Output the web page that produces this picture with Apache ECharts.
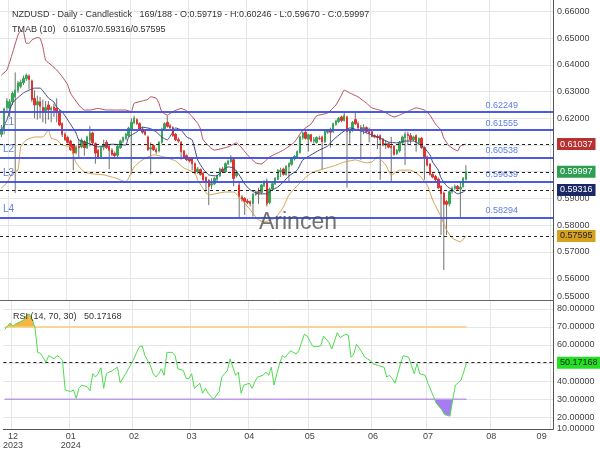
<!DOCTYPE html>
<html><head><meta charset="utf-8">
<script src="https://cdn.jsdelivr.net/npm/echarts@6/dist/echarts.min.js"></script>
<style>html,body{margin:0;padding:0;background:#fff}#c{width:600px;height:450px}</style>
</head><body><div id="c"></div>
<script>
// ---- data ----
const open = [0.6140,0.6160,0.6240,0.6238,0.6262,0.6280,0.6305,0.6320,0.6333,0.6348,0.6358,0.6340,0.6275,0.6250,0.6262,0.6240,0.6228,0.6250,0.6232,0.6242,0.6238,0.6225,0.6180,0.6140,0.6128,0.6115,0.6100,0.6072,0.6095,0.6093,0.6112,0.6090,0.6118,0.6145,0.6105,0.6080,0.6055,0.6092,0.6110,0.6095,0.6080,0.6068,0.6062,0.6090,0.6115,0.6125,0.6135,0.6160,0.6183,0.6195,0.6180,0.6160,0.6150,0.6130,0.6085,0.6098,0.6082,0.6078,0.6110,0.6160,0.6185,0.6172,0.6165,0.6140,0.6120,0.6110,0.6078,0.6060,0.6048,0.6050,0.6030,0.6000,0.6008,0.5995,0.5978,0.5968,0.5950,0.5955,0.5972,0.5985,0.6010,0.6000,0.6030,0.6038,0.6045,0.5985,0.5950,0.5905,0.5900,0.5890,0.5888,0.5882,0.5915,0.5925,0.5922,0.5948,0.5965,0.5885,0.5935,0.5955,0.5972,0.6000,0.6010,0.5990,0.6018,0.6028,0.6048,0.6055,0.6072,0.6128,0.6148,0.6122,0.6138,0.6115,0.6110,0.6125,0.6130,0.6112,0.6148,0.6152,0.6150,0.6178,0.6188,0.6205,0.6192,0.6205,0.6145,0.6155,0.6195,0.6180,0.6165,0.6160,0.6165,0.6150,0.6150,0.6135,0.6132,0.6135,0.6122,0.6100,0.6105,0.6095,0.6095,0.6068,0.6078,0.6108,0.6128,0.6140,0.6135,0.6120,0.6135,0.6108,0.6125,0.6090,0.6055,0.6028,0.5990,0.5982,0.5972,0.5945,0.5920,0.5888,0.5880,0.5925,0.5938,0.5945,0.5935,0.5945,0.59719];
const high = [0.6175,0.6240,0.6275,0.6272,0.6300,0.6372,0.6340,0.6345,0.6360,0.6368,0.6365,0.6345,0.6305,0.6285,0.6280,0.6270,0.6265,0.6265,0.6245,0.6255,0.6275,0.6232,0.6185,0.6148,0.6135,0.6120,0.6105,0.6098,0.6120,0.6125,0.6118,0.6135,0.6172,0.6150,0.6110,0.6085,0.6095,0.6120,0.6118,0.6100,0.6088,0.6075,0.6100,0.6120,0.6132,0.6145,0.6168,0.6200,0.6210,0.6200,0.6185,0.6168,0.6155,0.6135,0.6110,0.6103,0.6090,0.6115,0.6165,0.6185,0.6210,0.6180,0.6170,0.6145,0.6128,0.6115,0.6082,0.6065,0.6055,0.6055,0.6035,0.6018,0.6012,0.6000,0.5982,0.5972,0.5975,0.5980,0.5990,0.6015,0.6018,0.6035,0.6045,0.6062,0.6050,0.6005,0.5965,0.5912,0.5905,0.5898,0.5892,0.5920,0.5930,0.5940,0.5955,0.5968,0.5975,0.5940,0.5960,0.5980,0.6010,0.6015,0.6015,0.6025,0.6035,0.6055,0.6062,0.6080,0.6135,0.6150,0.6152,0.6142,0.6142,0.6130,0.6132,0.6135,0.6135,0.6155,0.6160,0.6165,0.6183,0.6195,0.6205,0.6210,0.6222,0.6210,0.6160,0.6190,0.6220,0.6188,0.6175,0.6178,0.6170,0.6165,0.6155,0.6140,0.6140,0.6140,0.6126,0.6118,0.6110,0.6130,0.6100,0.6085,0.6115,0.6135,0.6150,0.6150,0.6145,0.6135,0.6140,0.6128,0.6130,0.6095,0.6060,0.6032,0.5995,0.5988,0.5978,0.5950,0.5925,0.5895,0.5930,0.5945,0.5952,0.5950,0.5965,0.5980,0.60246];
const low = [0.6130,0.6140,0.6225,0.6205,0.6250,0.5920,0.6295,0.6312,0.6325,0.6340,0.6310,0.6262,0.6200,0.6195,0.6200,0.6185,0.6180,0.6195,0.6185,0.6205,0.6185,0.6170,0.6130,0.6115,0.6105,0.6078,0.6006,0.6065,0.6050,0.6088,0.6060,0.6085,0.6095,0.6100,0.6030,0.6048,0.6050,0.6080,0.6085,0.6010,0.6058,0.6052,0.6055,0.6085,0.6108,0.6118,0.6130,0.5990,0.6178,0.6175,0.6155,0.6142,0.6135,0.6078,0.5990,0.6078,0.6065,0.6072,0.6105,0.6155,0.6165,0.6158,0.6130,0.6115,0.6108,0.6045,0.6048,0.6040,0.6035,0.6005,0.5990,0.5992,0.5985,0.5965,0.5930,0.5875,0.5935,0.5950,0.5965,0.5980,0.5995,0.5995,0.6025,0.6032,0.5945,0.5978,0.5830,0.5888,0.5838,0.5878,0.5870,0.5832,0.5910,0.5880,0.5915,0.5942,0.5870,0.5878,0.5930,0.5950,0.5968,0.5980,0.5985,0.5985,0.5965,0.6022,0.6042,0.6050,0.6068,0.6120,0.6120,0.6075,0.6110,0.6105,0.6105,0.6118,0.6006,0.6108,0.6142,0.6090,0.6145,0.6172,0.6182,0.6185,0.6188,0.5940,0.6105,0.6150,0.6175,0.6160,0.6045,0.6140,0.6145,0.6110,0.6128,0.6125,0.6085,0.5970,0.6095,0.6085,0.6088,0.5960,0.6060,0.6062,0.6072,0.6102,0.6025,0.6100,0.6105,0.6115,0.6075,0.6100,0.6085,0.5970,0.6020,0.5985,0.5975,0.5965,0.5935,0.5763,0.5632,0.5763,0.5870,0.5918,0.5932,0.5930,0.5830,0.5940,0.59670];
const close = [0.6155,0.6235,0.6265,0.6262,0.6293,0.6305,0.6332,0.6335,0.6350,0.6360,0.6345,0.6270,0.6250,0.6262,0.6245,0.6228,0.6240,0.6232,0.6238,0.6230,0.6225,0.6175,0.6140,0.6120,0.6110,0.6082,0.6070,0.6092,0.6090,0.6118,0.6090,0.6130,0.6145,0.6108,0.6070,0.6055,0.6090,0.6098,0.6090,0.6080,0.6065,0.6060,0.6095,0.6115,0.6128,0.6140,0.6163,0.6185,0.6200,0.6180,0.6160,0.6148,0.6140,0.6082,0.6090,0.6082,0.6075,0.6110,0.6160,0.6180,0.6170,0.6165,0.6135,0.6120,0.6115,0.6075,0.6052,0.6045,0.6040,0.6030,0.5995,0.6010,0.5990,0.5970,0.5965,0.5945,0.5955,0.5975,0.5985,0.6010,0.6000,0.6030,0.6040,0.6048,0.5975,0.5998,0.5905,0.5895,0.5888,0.5885,0.5880,0.5915,0.5925,0.5922,0.5950,0.5960,0.5880,0.5935,0.5955,0.5975,0.6005,0.6005,0.5990,0.6020,0.6030,0.6050,0.6058,0.6075,0.6130,0.6145,0.6125,0.6138,0.6115,0.6120,0.6128,0.6125,0.6112,0.6150,0.6155,0.6148,0.6180,0.6190,0.6200,0.6192,0.6210,0.6150,0.6155,0.6185,0.6180,0.6165,0.6160,0.6165,0.6150,0.6145,0.6132,0.6130,0.6128,0.6120,0.6100,0.6105,0.6092,0.6090,0.6065,0.6080,0.6110,0.6130,0.6140,0.6135,0.6120,0.6130,0.6112,0.6125,0.6090,0.6055,0.6025,0.5990,0.5980,0.5970,0.5940,0.5918,0.5878,0.5878,0.5925,0.5938,0.5945,0.5935,0.5942,0.5975,0.59997];

// TMA bands: [bar index, value]
const tmaUpper = [[0,0.6362],[2,0.6381],[4,0.6444],[6,0.6512],[7,0.6528],[8,0.6524],[9,0.6481],[10,0.6481],[11,0.6493],[13,0.6503],[14,0.6500],[15,0.6468],[16,0.6418],[18,0.6400],[20,0.6381],[22,0.6356],[24,0.6325],[25,0.6294],[28,0.6250],[30,0.6231],[32,0.6231],[35,0.6237],[38,0.6231],[42,0.6231],[45,0.6231],[47,0.6225],[48,0.6256],[51,0.6265],[53,0.6271],[54,0.6281],[56,0.6275],[57,0.6256],[58,0.6225],[60,0.6212],[62,0.6225],[65,0.6237],[67,0.6228],[69,0.6206],[71,0.6181],[72,0.6160],[73,0.6119],[77,0.6081],[82,0.6093],[85,0.6108],[89,0.6063],[92,0.6033],[94,0.6029],[97,0.6055],[102,0.6081],[106,0.6111],[109,0.6156],[112,0.6179],[114,0.6209],[118,0.6220],[121,0.6250],[123,0.6287],[124,0.6306],[126,0.6295],[129,0.6280],[132,0.6257],[134,0.6239],[138,0.6227],[142,0.6205],[144,0.6212],[148,0.6231],[150,0.6239],[153,0.6231],[155,0.6212],[157,0.6178],[159,0.6156],[160,0.6126],[162,0.6096],[165,0.6078],[166,0.6096],[168,0.61037]];
const tmaMid = [[0,0.6156],[2,0.6194],[4,0.6257],[8,0.6295],[12,0.6313],[14,0.6313],[17,0.6276],[19,0.6261],[20,0.6242],[22,0.6224],[24,0.6194],[27,0.6145],[28,0.6119],[31,0.6108],[35,0.6093],[40,0.6103],[45,0.6100],[46,0.6130],[49,0.6149],[51,0.6167],[54,0.6161],[56,0.6149],[58,0.6130],[60,0.6119],[62,0.6149],[63,0.6164],[65,0.6156],[67,0.6130],[69,0.6119],[71,0.6044],[73,0.6010],[75,0.5988],[78,0.5984],[80,0.6006],[82,0.6018],[84,0.6014],[86,0.5988],[88,0.5954],[90,0.5932],[93,0.5917],[96,0.5917],[98,0.5932],[100,0.5943],[102,0.5962],[104,0.5984],[107,0.6006],[109,0.6044],[112,0.6063],[115,0.6081],[118,0.6096],[120,0.6119],[123,0.6145],[126,0.6164],[129,0.6156],[131,0.6149],[134,0.6138],[137,0.6126],[140,0.6111],[143,0.6108],[146,0.6115],[149,0.6115],[151,0.6104],[153,0.6089],[155,0.6063],[156,0.6036],[158,0.6006],[159,0.5977],[161,0.5947],[163,0.5932],[165,0.5917],[167,0.5924],[168,0.59316]];
const tmaLower = [[0,0.5939],[2,0.5958],[4,0.5995],[6,0.6006],[7,0.6093],[9,0.6119],[12,0.6130],[15,0.6130],[17,0.6156],[18,0.6126],[20,0.6119],[22,0.6100],[25,0.6093],[27,0.6033],[30,0.5999],[33,0.5992],[37,0.5988],[41,0.5977],[45,0.5962],[48,0.6018],[51,0.6044],[55,0.6063],[59,0.6055],[63,0.6040],[66,0.6014],[70,0.5995],[71,0.5969],[75,0.5913],[81,0.5924],[84,0.5924],[87,0.5894],[90,0.5857],[93,0.5819],[95,0.5812],[99,0.5827],[102,0.5868],[104,0.5913],[108,0.5958],[112,0.5995],[115,0.6006],[120,0.6021],[124,0.6036],[128,0.6044],[132,0.6033],[134,0.6036],[136,0.6055],[139,0.6025],[141,0.5988],[144,0.6006],[148,0.6006],[151,0.5988],[154,0.5950],[156,0.5894],[159,0.5831],[161,0.5782],[163,0.5752],[166,0.5737],[168,0.57595]];

// RSI (14): [bar index, value]
const rsi = [[0,68.6],[2,72.2],[3,70.4],[4,71.7],[6,73.1],[7,74],[8,76.7],[9,77.1],[10,74],[11,69.5],[12,55.9],[13,55.4],[15,50.5],[16,54.1],[18,52.3],[19,54.1],[20,53.2],[21,51.4],[22,35.1],[24,34.2],[25,35.1],[26,30.5],[27,36],[28,37.8],[30,36.9],[31,34.7],[32,44.1],[33,42.3],[34,44.1],[35,47.4],[36,36],[37,44.1],[38,45],[39,45.6],[40,46.8],[41,47.7],[42,39.1],[44,44.1],[45,46.8],[46,49.6],[47,52.3],[48,55.9],[49,59],[50,59.5],[51,54.1],[53,48.6],[54,44.1],[55,42.3],[56,44.1],[57,46.8],[58,43.2],[59,55.9],[61,55.9],[62,54.1],[63,46.8],[65,45.9],[66,41.4],[67,41.4],[68,44.1],[69,36],[71,38.8],[72,33.3],[73,36],[74,33.3],[75,31.5],[76,30],[78,34.2],[79,42.3],[80,44.1],[81,45.9],[82,52.3],[84,43.2],[85,45],[86,33.3],[87,37.8],[89,38.8],[90,36],[91,39.6],[92,42.3],[94,43.2],[95,45],[96,43.2],[97,47.7],[98,37.8],[99,44.1],[100,49.6],[101,54.1],[102,53.2],[103,55],[104,56.8],[106,55],[107,56.8],[108,61.4],[109,65.9],[110,65],[112,59.5],[113,59],[115,59.5],[116,65],[118,61.4],[119,57.7],[120,62.2],[121,66.8],[122,64.1],[124,65.9],[125,65.5],[126,53.2],[127,55],[128,60.4],[130,55.9],[131,53.2],[132,52.3],[133,51.4],[134,49.6],[136,48.6],[138,47.7],[139,42.3],[140,43.2],[141,41.4],[142,38.8],[143,44.1],[144,49.6],[145,54.1],[147,53.2],[148,48.6],[149,44.1],[150,49.6],[151,44.1],[153,43.2],[154,38.8],[156,31.5],[157,27.8],[159,24.2],[160,21.5],[162,20.6],[163,29.6],[164,37.8],[165,39.1],[166,40.5],[167,45],[168,50.17168]];
const rsiLevels = [70, 30];

const levelValues = [0.62249, 0.61555, 0.60538, 0.59639, 0.58294];
const levelNames = ['', 'L1', 'L2', 'L3', 'L4'];
const priceTicks = [0.56,0.57,0.58,0.59,0.60,0.61,0.62,0.63,0.64,0.65,0.66];
const rsiTicks = [20,30,40,50,60,70,80];
const monthTicks = ['2023-12-01','2024-01-01','2024-02-01','2024-03-01','2024-04-01','2024-05-01','2024-06-03','2024-07-01','2024-08-01','2024-09-02'];

// weekday categories (trading days) from 2023-11-28 to 2024-09-02
const categories = [];
for (let d = new Date(Date.UTC(2023,10,28)); d <= new Date(Date.UTC(2024,8,2)); d.setUTCDate(d.getUTCDate()+1)) {
  const wd = d.getUTCDay(); if (wd === 0 || wd === 6) continue;
  categories.push(d.toISOString().slice(0,10));
}

const FONT = 'Liberation Sans, Arial, sans-serif';
const wickData = open.map((o,i) => [i, low[i], high[i]]);
const bodyData = open.map((o,i) => [o, close[i], Math.min(o,close[i]), Math.max(o,close[i])]);
const last = a => a[a.length-1][1];
const lastClose = close[close.length-1];
const lastRsi = last(rsi);

const monthInterval = (idx, val) => monthTicks.indexOf(val) >= 0;

function tag(v, text, bg, fg) {
  return { yAxis: v, lineStyle: { color: '#222', type: [3,3], width: 1 },
    label: { show: true, position: 'end', distance: 4, formatter: () => text, backgroundColor: bg, color: fg,
      padding: [2,3,1,3], fontSize: 9, fontFamily: FONT } };
}

const levelLines = levelValues.map(v => ({ yAxis: v, lineStyle: { color: '#3f51e6', width: 1.5, type: 'solid' },
  label: { show: true, position: 'insideEndTop', formatter: () => v.toFixed(5), color: '#5b7fe6', fontSize: 9, fontFamily: FONT, padding: [0,33,0,0], distance: 2 } }));
const levelNameLines = levelValues.map((v,i) => ({ yAxis: v, lineStyle: { color: '#3f51e6', width: 1.5, type: 'solid' },
  label: { show: levelNames[i] !== '', position: 'insideStartTop', formatter: () => levelNames[i], color: '#5b7fe6', fontSize: 10, fontFamily: FONT, distance: 3 } }));

const chart = echarts.init(document.getElementById('c'), null, { renderer: 'canvas' });
chart.setOption({
  animation: false,
  backgroundColor: '#fff',
  textStyle: { fontFamily: FONT },
  title: [
    { text: 'NZDUSD - Daily - Candlestick   169/188 - O:0.59719 - H:0.60246 - L:0.59670 - C:0.59997', left: 7, top: 5,
      textStyle: { fontSize: 9, fontWeight: 'normal', color: '#333', fontFamily: FONT } },
    { text: 'TMAB (10)   ' + last(tmaUpper).toFixed(5) + '/' + last(tmaMid).toFixed(5) + '/' + last(tmaLower).toFixed(5), left: 7, top: 20,
      textStyle: { fontSize: 9, fontWeight: 'normal', color: '#333', fontFamily: FONT } },
    { text: 'RSI (14, 70, 30)   ' + lastRsi.toFixed(5), left: 8, top: 307,
      textStyle: { fontSize: 9, fontWeight: 'normal', color: '#333', fontFamily: FONT } }
  ],
  grid: [
    { left: 0, right: 47, top: 0, height: 300 },
    { left: 0, right: 47, top: 300, height: 132 }
  ],
  xAxis: [
    { gridIndex: 0, type: 'category', data: categories, boundaryGap: true,
      axisLine: { show: true, lineStyle: { color: '#666' } }, axisTick: { show: false }, axisLabel: { show: false },
      splitLine: { show: true, interval: monthInterval, lineStyle: { color: '#e6e6e6' } } },
    { gridIndex: 1, type: 'category', data: categories, boundaryGap: true,
      axisLine: { show: true, lineStyle: { color: '#555' } }, axisTick: { show: false },
      axisLabel: { show: true, interval: monthInterval, fontSize: 9, color: '#444', margin: 3, lineHeight: 9,
        formatter: v => { const p = v.split('-'); if (v === monthTicks[monthTicks.length-1]) return '{r|' + p[1] + '}';
          return (v === monthTicks[0] || p[1] === '01') ? p[1] + '\n' + p[0] : p[1]; },
        rich: { r: { fontSize: 9, color: '#444', padding: [0, 20, 0, 0] } } },
      splitLine: { show: true, interval: monthInterval, lineStyle: { color: '#e6e6e6' } } }
  ],
  yAxis: [
    { gridIndex: 0, type: 'value', position: 'right', min: 0.55195, max: 0.66431,
      axisLine: { show: true, lineStyle: { color: '#555' } },
      axisTick: { show: false, customValues: priceTicks },
      axisLabel: { customValues: [0.55195].concat(priceTicks), fontSize: 9, color: '#444', margin: 4,
        formatter: v => v < 0.555 ? '{b|0.55000}' : v.toFixed(5), rich: { b: { fontSize: 9, color: '#444', padding: [0,0,6,0] } } },
      splitLine: { show: true, lineStyle: { color: '#e6e6e6' } } },
    { gridIndex: 1, type: 'value', position: 'right', min: 13.5, max: 84.9,
      axisLine: { show: true, lineStyle: { color: '#555' } },
      axisTick: { show: false, customValues: rsiTicks },
      axisLabel: { customValues: [13.5].concat(rsiTicks), fontSize: 9, color: '#444', margin: 4,
        formatter: v => v < 15 ? '{b|10.00000}' : v.toFixed(5), rich: { b: { fontSize: 9, color: '#444', padding: [0,0,1,0] } } },
      splitLine: { show: true, lineStyle: { color: '#e6e6e6' } } }
  ],
  visualMap: [{ type: 'piecewise', show: false, seriesIndex: 5, dimension: 1,
    pieces: [ { lt: 30, color: '#a47ef0' }, { gte: 30, lte: 70, color: 'rgba(255,255,255,0)' }, { gt: 70, color: '#f6b446' } ] }],
  series: [
    { type: 'custom', xAxisIndex: 0, yAxisIndex: 0, data: wickData, silent: true, encode: { x: 0, y: [1, 2] },
      renderItem: (params, api) => {
        const a = api.coord([api.value(0), api.value(1)]);
        const b = api.coord([api.value(0), api.value(2)]);
        return { type: 'line', shape: { x1: a[0], y1: a[1], x2: b[0], y2: b[1] }, style: { stroke: '#707070', lineWidth: 1 } };
      } },
    { type: 'candlestick', xAxisIndex: 0, yAxisIndex: 0, data: bodyData, barWidth: 2, silent: true,
      itemStyle: { color: '#34a853', color0: '#e2332d', borderColor: '#34a853', borderColor0: '#e2332d', borderWidth: 1 },
      markLine: { silent: true, symbol: 'none', precision: 5, data: levelLines.concat(levelNameLines).concat([
        tag(last(tmaUpper), last(tmaUpper).toFixed(5), '#b8302f', '#fff'),
        tag(lastClose, lastClose.toFixed(5), '#2e9e52', '#fff'),
        tag(last(tmaMid), last(tmaMid).toFixed(5), '#1c2866', '#fff'),
        tag(last(tmaLower), last(tmaLower).toFixed(5), '#d6a21e', '#222')
      ]) } },
    { type: 'line', xAxisIndex: 0, yAxisIndex: 0, data: tmaUpper, showSymbol: false, smooth: 0.15, silent: true,
      lineStyle: { color: '#b5525a', width: 1 } },
    { type: 'line', xAxisIndex: 0, yAxisIndex: 0, data: tmaMid, showSymbol: false, smooth: 0.15, silent: true,
      lineStyle: { color: '#3d4a82', width: 1 } },
    { type: 'line', xAxisIndex: 0, yAxisIndex: 0, data: tmaLower, showSymbol: false, smooth: 0.15, silent: true,
      lineStyle: { color: '#d4a24c', width: 1 } },
    { type: 'line', xAxisIndex: 1, yAxisIndex: 1, data: rsi, showSymbol: false, silent: true,
      lineStyle: { width: 0, opacity: 0 }, areaStyle: { origin: rsiLevels[0], opacity: 1 } },
    { type: 'line', xAxisIndex: 1, yAxisIndex: 1, data: rsi, showSymbol: false, silent: true, z: 5,
      lineStyle: { color: '#4fdc4f', width: 1 },
      markLine: { silent: true, symbol: 'none', data: [ tag(lastRsi, lastRsi.toFixed(5), '#22e022', '#222') ] } },
    { type: 'line', xAxisIndex: 1, yAxisIndex: 1, data: [[0, rsiLevels[0]], [168, rsiLevels[0]]], showSymbol: false, silent: true,
      lineStyle: { color: '#f8cd7a', width: 1.5 } },
    { type: 'line', xAxisIndex: 1, yAxisIndex: 1, data: [[0, rsiLevels[1]], [168, rsiLevels[1]]], showSymbol: false, silent: true,
      lineStyle: { color: '#bb9ce8', width: 1.5 } }
  ],
  graphic: [
    { type: 'text', left: 259, top: 211, z: 100, silent: true,
      style: { text: 'Arincen', fontSize: 23, fontFamily: FONT, fill: 'rgba(70,70,70,0.75)' } }
  ]
});
</script>
</body></html>
